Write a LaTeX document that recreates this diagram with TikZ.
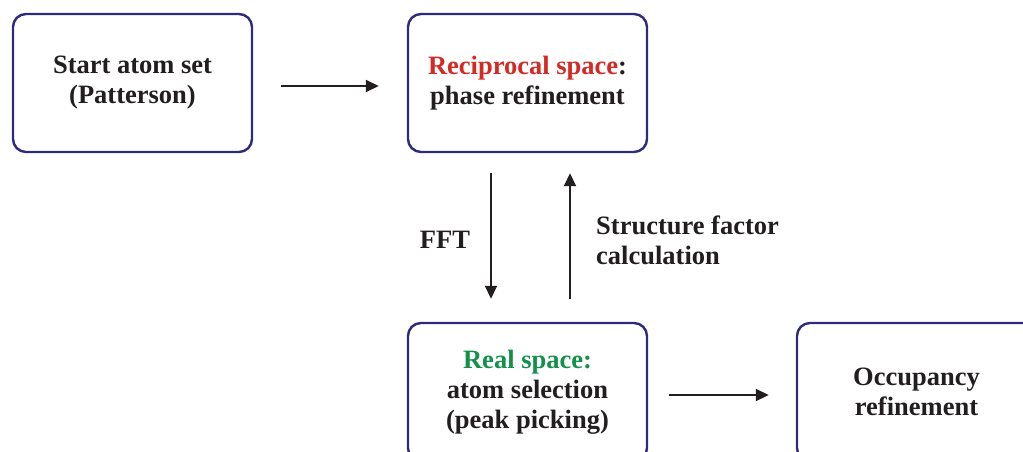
\documentclass[tikz,border=0pt]{standalone}
\usepackage{fontspec}
\setmainfont{Liberation Serif}
\usetikzlibrary{arrows.meta}
\definecolor{boxblue}{HTML}{2E2A7E}
\definecolor{redtxt}{HTML}{D42A25}
\definecolor{greentxt}{HTML}{13914A}
\definecolor{txt}{HTML}{221E1F}
\begin{document}
\begin{tikzpicture}[x=1pt,y=-1pt,
  box/.style={draw=boxblue,line width=2.4pt,rounded corners=13pt,minimum width=239pt,minimum height=138pt,
    align=center,font=\bfseries\fontsize{26.5}{30}\selectfont,text=txt,inner sep=0pt},
  lbl/.style={font=\bfseries\fontsize{26.5}{30}\selectfont,text=txt,inner sep=0pt},
  arr/.style={line width=1.8pt,draw=txt,-{Triangle[length=13pt,width=12pt]}}]
\useasboundingbox (0,0) rectangle (1023,452);
\begin{scope}
\clip (0,0) rectangle (1023,452);
\node[box] (b1) at (132.5,83) {Start atom set\\(Patterson)};
\node[box] (b2) at (527.5,83) {\textcolor{redtxt}{Reciprocal space}:\\phase refinement};
\node[box] (b3) at (527.5,392) {\textcolor{greentxt}{Real space:}\\atom selection\\(peak picking)};
\node[box] (b4) at (916.5,392) {Occupancy\\refinement};
\end{scope}
\draw[arr,shorten <=28pt,shorten >=28pt] ([yshift=-3pt]b1.east) -- ([yshift=-3pt]b2.west);
\draw[arr,shorten <=20pt,shorten >=23pt] ([xshift=-36.5pt]b2.south) -- ([xshift=-36.5pt]b3.north);
\draw[arr,shorten <=23pt,shorten >=20pt] ([xshift=42.5pt]b3.north) -- ([xshift=42.5pt]b2.south);
\draw[arr,shorten <=21pt,shorten >=27pt] ([yshift=-3pt]b3.east) -- ([yshift=-3pt]b4.west);
\node[lbl] (fft) at (445,240) {FFT};
\node[lbl,anchor=west,align=left] (sf) at (596,240) {Structure factor\\calculation};
\end{tikzpicture}
\end{document}
